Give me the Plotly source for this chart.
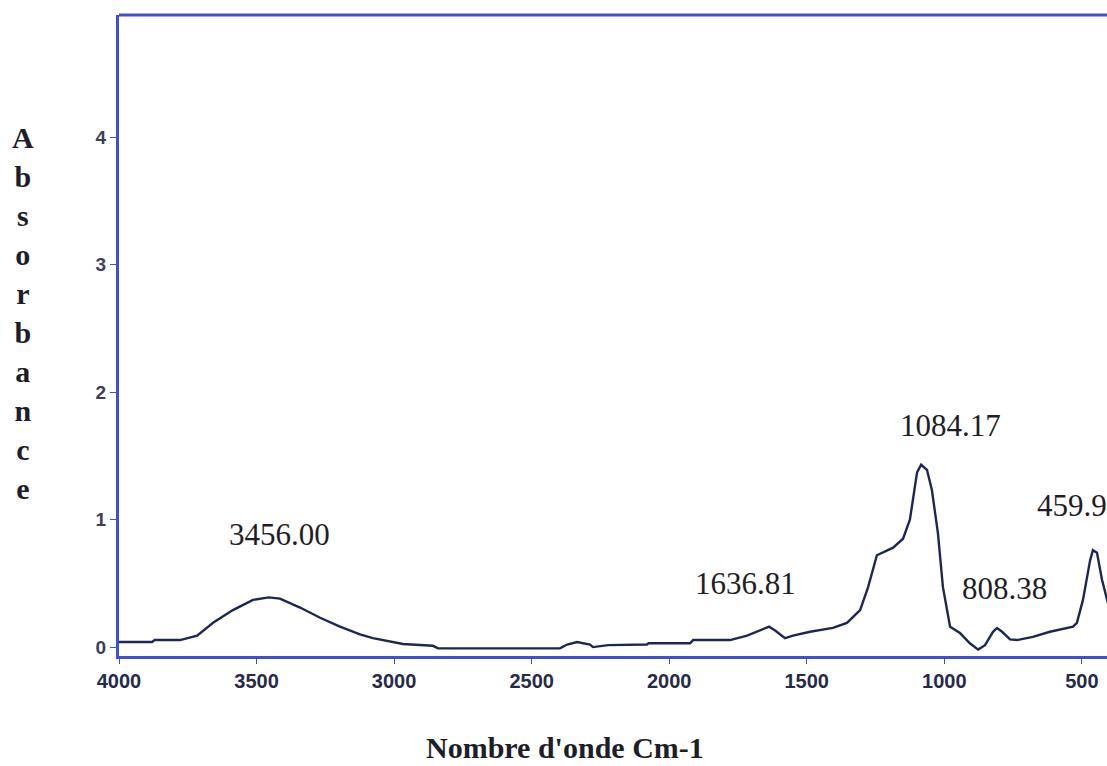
import plotly.graph_objects as go

# IR absorbance spectrum (wavenumber in cm-1, absorbance)
wavenumber = [4000, 3989, 3880, 3870, 3778, 3716, 3658, 3586, 3513, 3456, 3415, 3342,
              3269, 3197, 3124, 3077, 3004, 2968, 2859, 2840, 2397, 2371, 2335, 2288,
              2277, 2222, 2081, 2075, 1961, 1924, 1913, 1779, 1717, 1636.81, 1615, 1579,
              1550, 1488, 1405, 1354, 1306, 1277, 1245, 1186, 1150, 1125, 1099, 1084.17,
              1063, 1045, 1023, 1005, 979, 943, 907, 877, 852, 823, 808.38, 790, 761,
              736, 678, 616, 532, 518, 496, 470, 459.9, 445, 427, 409, 400]
absorbance = [0.04, 0.04, 0.04, 0.055, 0.055, 0.09, 0.19, 0.29, 0.37, 0.39, 0.38, 0.31,
              0.23, 0.16, 0.10, 0.07, 0.04, 0.024, 0.01, -0.01, -0.01, 0.02, 0.04, 0.02,
              0.0, 0.015, 0.02, 0.03, 0.03, 0.03, 0.055, 0.055, 0.09, 0.16, 0.13, 0.07,
              0.09, 0.12, 0.15, 0.19, 0.29, 0.47, 0.72, 0.78, 0.85, 1.0, 1.37, 1.43,
              1.39, 1.23, 0.89, 0.47, 0.16, 0.11, 0.03, -0.02, 0.015, 0.12, 0.15, 0.12, 0.06,
              0.055, 0.08, 0.12, 0.16, 0.19, 0.37, 0.68, 0.76, 0.74, 0.53, 0.37, 0.30]

# Peak labels: text, label x (cm-1), label y (absorbance), anchor
peak_labels = ["3456.00", "1636.81", "1084.17", "808.38", "459.9"]
label_x = [3415, 1724, 979, 783, 670]
label_y = [0.88, 0.50, 1.74, 0.46, 1.11]
label_anchor = ["center", "center", "center", "center", "left"]

x_ticks = [4000, 3500, 3000, 2500, 2000, 1500, 1000, 500]
y_ticks = [0, 1, 2, 3, 4]

AXIS_BLUE = "#3f4fd4"
SERIF = "Liberation Serif, Times New Roman, serif"
SANS = "Liberation Sans, Arial, sans-serif"

fig = go.Figure()
fig.add_trace(go.Scatter(
    x=wavenumber, y=absorbance, mode="lines",
    line=dict(color="#1d2755", width=2.4),
    hoverinfo="skip", showlegend=False,
))

for txt, lx, ly, anc in zip(peak_labels, label_x, label_y, label_anchor):
    fig.add_annotation(x=lx, y=ly, xref="x", yref="y", text=txt, showarrow=False,
                       xanchor=anc, yanchor="middle",
                       font=dict(family=SERIF, size=31, color="#1e1e28"))

# vertical stacked axis title
fig.add_annotation(x=-0.097, y=0.535, xref="paper", yref="paper",
                   text="<b>" + "<br>".join(list("Absorbance")) + "</b>", showarrow=False,
                   xanchor="center", yanchor="middle",
                   font=dict(family=SERIF, size=30, color="#1e1e28"))
fig.add_annotation(x=0.451, y=-0.143, xref="paper", yref="paper",
                   text="<b>Nombre d'onde Cm-1</b>", showarrow=False,
                   xanchor="center", yanchor="middle",
                   font=dict(family=SERIF, size=30, color="#1e1e28"))

# top frame line
fig.add_shape(type="line", xref="paper", yref="paper", x0=0, x1=1, y0=1, y1=1,
              line=dict(color=AXIS_BLUE, width=3))

fig.update_xaxes(
    range=[4000, 408.6], tickvals=x_ticks, ticktext=["<b>%d</b>" % v for v in x_ticks],
    showgrid=False, zeroline=False, showline=True, linecolor=AXIS_BLUE, linewidth=3,
    ticks="outside", ticklen=5, tickwidth=1, tickcolor=AXIS_BLUE,
    tickfont=dict(family=SANS, size=20, color="#262b48"),
)
fig.update_yaxes(
    range=[-0.07, 4.957], tickvals=y_ticks, ticktext=["<b>%d</b>" % v for v in y_ticks],
    showgrid=False, zeroline=False, showline=True, linecolor=AXIS_BLUE, linewidth=3,
    ticks="outside", ticklen=6, tickwidth=1, tickcolor=AXIS_BLUE,
    tickfont=dict(family=SANS, size=19, color="#3a3f5c"),
)
fig.update_layout(
    width=1107, height=766,
    margin=dict(l=119, r=0, t=15, b=110),
    paper_bgcolor="white", plot_bgcolor="white",
)

fig.write_html("out.html")
